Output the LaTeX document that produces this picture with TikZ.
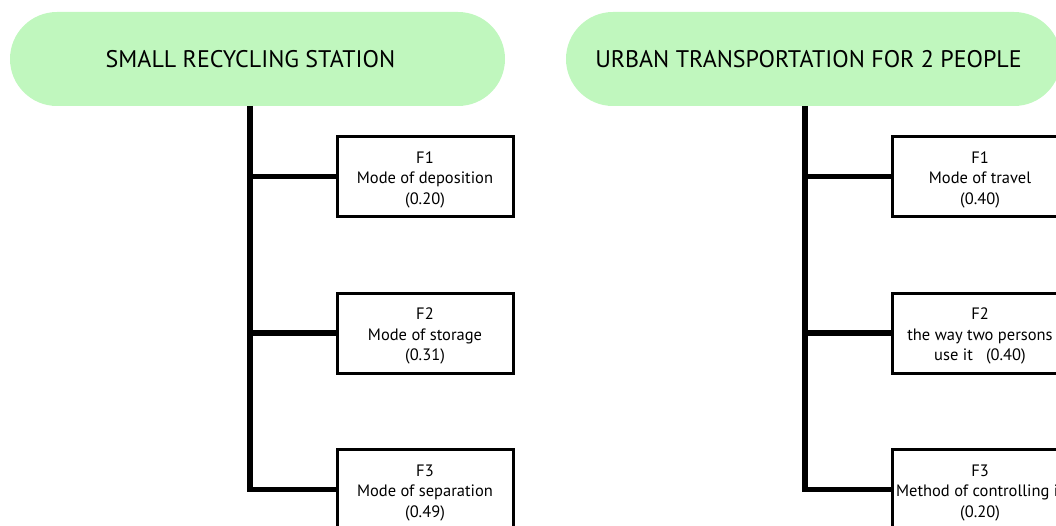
\documentclass[tikz,border=0pt]{standalone}
\usepackage{fontspec}
\setmainfont{PT Sans}
\definecolor{pillgreen}{HTML}{C0F7BE}
\newcommand{\topstrut}{\rule{0pt}{18pt}}
\begin{document}
\begin{tikzpicture}[x=1pt,y=-1pt,
  pill/.style={fill=pillgreen, rounded corners=47pt, minimum width=495pt, minimum height=94pt, inner sep=0pt, font=\fontsize{24}{28}\selectfont},
  fbox/.style={draw, line width=3pt, fill=white, minimum width=176pt, minimum height=80pt, inner sep=0pt, align=center, font=\fontsize{16.5}{20.5}\selectfont},
  trunk/.style={line width=5.5pt, line join=miter}]
\useasboundingbox (0,0) rectangle (1056,526);
\clip (0,0) rectangle (1056,526);
% left tree
\node[pill] (t1) at (257.5,59) {\hspace*{-14pt}SMALL RECYCLING STATION};
\coordinate (k1) at (250,106);
\node[fbox] (a1) at (425,176.5) {\topstrut F1\\Mode of deposition\\(0.20)};
\node[fbox] (a2) at (425,333) {\topstrut F2\\Mode of storage\\(0.31)};
\node[fbox] (a3) at (425,489.5) {\topstrut F3\\Mode of separation\\(0.49)};
\draw[trunk] (k1) |- (a3.west);
\draw[trunk] (a1.west -| k1) -- (a1.west);
\draw[trunk] (a2.west -| k1) -- (a2.west);
% right tree
\node[pill] (t2) at (813.5,59) {\hspace*{-10pt}URBAN TRANSPORTATION FOR 2 PEOPLE};
\coordinate (k2) at (805,106);
\node[fbox] (b1) at (980,176.5) {\topstrut F1\\Mode of travel\\(0.40)};
\node[fbox] (b2) at (980,333) {\topstrut F2\\the way two persons\\use it\ \ \ (0.40)};
\node[fbox] (b3) at (980,489.5) {\topstrut F3\\Method of controlling it\\(0.20)};
\draw[trunk] (k2) |- (b3.west);
\draw[trunk] (b1.west -| k2) -- (b1.west);
\draw[trunk] (b2.west -| k2) -- (b2.west);
\end{tikzpicture}
\end{document}
